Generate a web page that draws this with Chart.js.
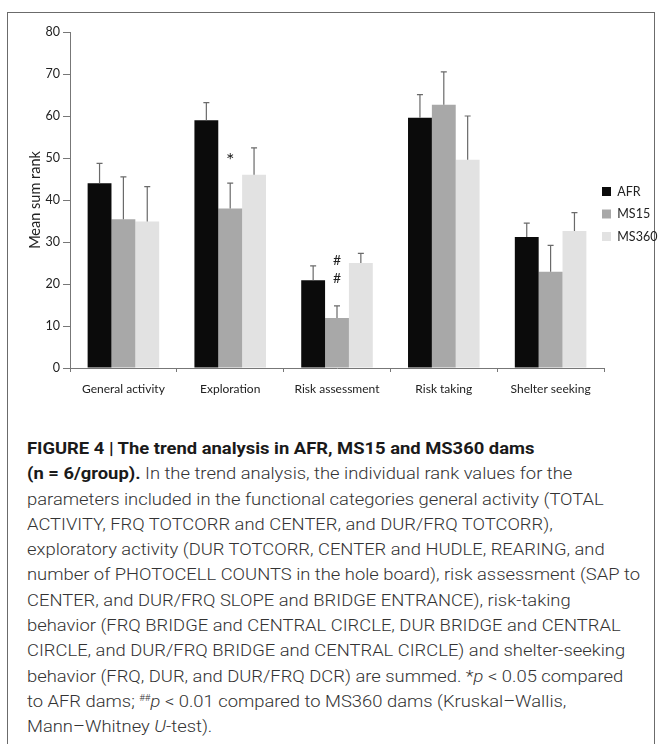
<!DOCTYPE html>
<html lang="en">
<head>
  <meta charset="UTF-8" />
  <title>Figure 4 - trend analysis</title>
  <script src="https://cdn.jsdelivr.net/npm/chart.js"></script>
  <style>
    body {
      margin: 0;
      background: #fff;
      width: 662px;
      height: 744px;
      overflow: hidden;
      position: relative;
      font-family: Lato, sans-serif;
    }
    #frame {
      position: absolute;
      left: 7px;
      top: 12px;
      width: 646px;
      height: 780px;
      border: 1.5px solid #6b6b6b;
    }
    #chart-box {
      position: absolute;
      left: 8px;
      top: 14px;
      width: 666px;
      height: 396px;
    }
    #caption {
      position: absolute;
      left: 27px;
      top: 436px;
      font-family: Roboto, sans-serif;
      font-weight: 300;
      font-size: 17px;
      line-height: 25.3px;
      color: #333;
      white-space: nowrap;
      transform-origin: 0 0;
    }
    #caption b { color: #1a1a1a; font-weight: 700; }
    #caption sup { font-size: 9px; vertical-align: 6px; line-height: 0; }
  </style>
</head>
<body>
  <div id="frame"></div>
  <div id="chart-box"><canvas id="chart"></canvas></div>
  <div id="caption">
    <div><b>FIGURE 4 | The trend analysis in AFR, MS15 and MS360 dams</b></div>
    <div><b>(n = 6/group).</b> In the trend analysis, the individual rank values for the</div>
    <div>parameters included in the functional categories general activity (TOTAL</div>
    <div>ACTIVITY, FRQ TOTCORR and CENTER, and DUR/FRQ TOTCORR),</div>
    <div>exploratory activity (DUR TOTCORR, CENTER and HUDLE, REARING, and</div>
    <div id="ref-line">number of PHOTOCELL COUNTS in the hole board), risk assessment (SAP to</div>
    <div>CENTER, and DUR/FRQ SLOPE and BRIDGE ENTRANCE), risk-taking</div>
    <div>behavior (FRQ BRIDGE and CENTRAL CIRCLE, DUR BRIDGE and CENTRAL</div>
    <div>CIRCLE, and DUR/FRQ BRIDGE and CENTRAL CIRCLE) and shelter-seeking</div>
    <div>behavior (FRQ, DUR, and DUR/FRQ DCR) are summed. *<i>p</i> &lt; 0.05 compared</div>
    <div>to AFR dams; <sup>##</sup><i>p</i> &lt; 0.01 compared to MS360 dams (Kruskal–Wallis,</div>
    <div>Mann–Whitney <i>U</i>-test).</div>
  </div>
  <script>
    const categories = ['General activity', 'Exploration', 'Risk assessment', 'Risk taking', 'Shelter seeking'];
    const seriesNames = ['AFR', 'MS15', 'MS360'];
    const afr = [44.0, 59.0, 20.9, 59.6, 31.2];
    const ms15 = [35.4, 38.0, 11.9, 62.7, 22.9];
    const ms360 = [34.9, 46.0, 25.0, 49.6, 32.6];
    // upward error (SEM) for each bar
    const afrErr = [4.7, 4.2, 3.4, 5.5, 3.3];
    const ms15Err = [10.1, 6.0, 2.9, 7.8, 6.3];
    const ms360Err = [8.3, 6.4, 2.3, 10.4, 4.4];
    const yMin = 0, yMax = 80, yStep = 10;
    // significance marks: category index, series index, value, symbol
    const markCats = [1, 2, 2];
    const markSeries = [1, 1, 1];
    const markValues = [50, 25.7, 21.4];
    const markTexts = ['*', '#', '#'];

    const errorBars = {
      id: 'errorBars',
      afterDatasetsDraw(chart) {
        const ctx = chart.ctx;
        const y = chart.scales.y;
        ctx.save();
        ctx.strokeStyle = '#6a6a6a';
        ctx.lineWidth = 1.2;
        chart.data.datasets.forEach((ds, i) => {
          chart.getDatasetMeta(i).data.forEach((bar, j) => {
            const top = y.getPixelForValue(ds.data[j] + ds.errors[j]);
            ctx.beginPath();
            ctx.moveTo(bar.x, bar.y);
            ctx.lineTo(bar.x, top);
            ctx.moveTo(bar.x - 3, top);
            ctx.lineTo(bar.x + 3, top);
            ctx.stroke();
          });
        });
        // * and # marks
        ctx.fillStyle = '#222';
        ctx.textAlign = 'center';
        ctx.textBaseline = 'middle';
        markTexts.forEach((t, k) => {
          const bar = chart.getDatasetMeta(markSeries[k]).data[markCats[k]];
          ctx.font = t === '*' ? '20px Lato, sans-serif' : '14px Lato, sans-serif';
          ctx.fillText(t, bar.x, y.getPixelForValue(markValues[k]) + (t === '*' ? 3 : 0));
        });
        ctx.restore();
      }
    };

    // legend sits right at the end of the x axis, like the original
    const legendWidth = 70;
    const legendPlace = {
      id: 'legendPlace',
      beforeLayout(chart) {
        const lg = chart.legend;
        if (lg && !lg.fixedFit) {
          const fit = lg.fit.bind(lg);
          lg.fit = function () { fit(); this.width = legendWidth; };
          lg.fixedFit = true;
        }
      },
      afterLayout(chart) {
        chart.legend.left -= 12;
        chart.legend.right -= 12;
        chart.legend.top -= 6;
        chart.legend.bottom -= 6;
      }
    };

    const axisColor = '#777';
    const tickFont = { family: 'Lato, sans-serif', size: 12 };

    new Chart(document.getElementById('chart'), {
      type: 'bar',
      data: {
        labels: categories,
        datasets: [
          { label: seriesNames[0], data: afr, errors: afrErr, backgroundColor: '#0b0b0b' },
          { label: seriesNames[1], data: ms15, errors: ms15Err, backgroundColor: '#a8a8a8' },
          { label: seriesNames[2], data: ms360, errors: ms360Err, backgroundColor: '#e2e2e2' }
        ]
      },
      options: {
        responsive: true,
        maintainAspectRatio: false,
        animation: false,
        datasets: { bar: { categoryPercentage: 0.67, barPercentage: 1, borderWidth: 0 } },
        layout: { padding: { left: 8, top: 18, right: 0, bottom: 2 } },
        plugins: {
          legend: {
            position: 'right',
            labels: {
              boxWidth: 9,
              boxHeight: 9,
              padding: 10,
              color: '#222',
              font: { family: 'Lato, sans-serif', size: 12.5 }
            }
          },
          tooltip: { enabled: false }
        },
        scales: {
          x: {
            afterFit(scale) { scale.height = 40; },
            border: { color: axisColor, width: 1 },
            grid: { drawOnChartArea: false, drawTicks: true, tickLength: 4, color: axisColor, offset: true },
            ticks: { color: '#222', font: tickFont, padding: 10, maxRotation: 0 }
          },
          y: {
            min: yMin,
            max: yMax,
            afterFit(scale) { scale.width = 54; },
            border: { color: axisColor, width: 1 },
            grid: { drawOnChartArea: false, drawTicks: true, tickLength: 7, color: axisColor },
            ticks: { stepSize: yStep, color: '#222', font: { family: 'Lato, sans-serif', size: 12.5 }, padding: 3 },
            title: {
              display: true,
              text: 'Mean sum rank',
              color: '#222',
              font: { family: 'Lato, sans-serif', size: 14.5 },
              padding: { top: 11, bottom: 0 }
            }
          }
        }
      },
      plugins: [errorBars, legendPlace]
    });

    // squeeze the caption to the width of the printed one
    const ref = document.getElementById('ref-line');
    const range = document.createRange();
    range.selectNodeContents(ref);
    const textW = range.getBoundingClientRect().width;
    document.getElementById('caption').style.transform = 'scaleX(' + (613 / textW) + ')';
  </script>
</body>
</html>
